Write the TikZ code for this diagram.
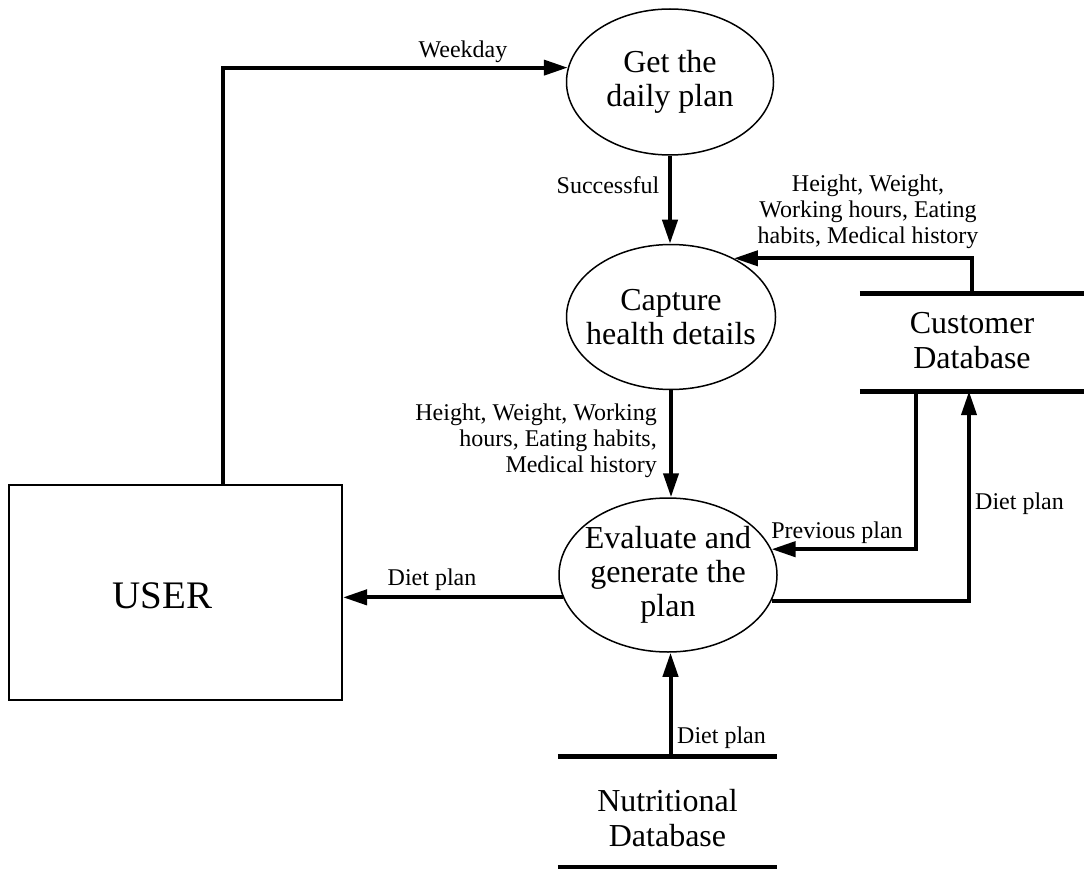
\documentclass[tikz,border=0pt]{standalone}
\usepackage{fontspec}
\setmainfont{Liberation Serif}
\usetikzlibrary{shapes.geometric,arrows.meta,calc}
\begin{document}
\begin{tikzpicture}[x=1pt,y=-1pt,
  process/.style={ellipse, draw, line width=1.5pt, inner sep=0pt},
  proctext/.style={font=\fontsize{32}{34}\selectfont, align=center, inner sep=0pt},
  flow/.style={line width=4pt, line join=miter, -{Triangle[length=24pt,width=15pt]}},
  flowlabel/.style={font=\fontsize{24}{26}\selectfont, align=center, inner sep=0pt},
  store/.style={inner sep=0pt},
  storetext/.style={font=\fontsize{32}{35}\selectfont, align=center, inner sep=0pt},
  storeline/.style={line width=5pt},
  entity/.style={draw, line width=2pt, inner sep=0pt},
]
\useasboundingbox (0,0) rectangle (1084,869);

% external entity
\node[entity, minimum width=333pt, minimum height=215pt,
      label={[font=\fontsize{39}{40}\selectfont, xshift=-13pt, yshift=-3pt]center:USER}]
      (user) at (175.5,592.5) {};

% processes
\node[process, minimum width=207pt, minimum height=146pt,
      label={[proctext]center:Get the\\daily plan}] (get) at (670,82) {};
\node[process, minimum width=209pt, minimum height=145pt,
      label={[proctext]center:Capture\\health details}] (capture) at (671,317) {};
\node[process, minimum width=218pt, minimum height=154pt,
      label={[proctext]center:Evaluate and\\generate the\\plan}] (evaluate) at (668,575) {};

% data stores
\node[store, minimum width=224pt, minimum height=97pt,
      label={[storetext, yshift=2pt]center:Customer\\Database}] (cdb) at (972,342.5) {};
\draw[storeline] (cdb.north west) -- (cdb.north east);
\draw[storeline] (cdb.south west) -- (cdb.south east);

\node[store, minimum width=219pt, minimum height=110pt,
      label={[storetext, yshift=-6pt]center:Nutritional\\Database}] (ndb) at (667.5,812) {};
\draw[storeline] (ndb.north west) -- (ndb.north east);
\draw[storeline] (ndb.south west) -- (ndb.south east);

% data flows
\draw[flow] ([xshift=47.5pt]user.north) |- (get.172);
\draw[flow] (get.south) -- (get.south |- capture.north);
\draw[flow] (cdb.north) |- (capture.43);
\draw[flow] (capture.south) -- (capture.south |- evaluate.north);
\draw[flow] ([xshift=-56pt]cdb.south) |- (evaluate.14);
\draw[flow] (evaluate.-14) -| ([xshift=-3pt]cdb.south);
\draw[flow] (evaluate.192) -- (evaluate.192 -| user.east);
\draw[flow] ([xshift=3pt]ndb.north) -- ([xshift=3pt]ndb.north |- evaluate.south);

% flow labels
\node[flowlabel] (lweek) at (463,52) {Weekday};
\node[flowlabel] (lsucc) at (608,185) {Successful};
\node[flowlabel] (lcust) at (868,212) {Height, Weight,\\Working hours, Eating\\habits, Medical history};
\node[flowlabel, anchor=east, align=right] (lhealth) at (657,441) {Height, Weight, Working\\hours, Eating habits,\\Medical history};
\node[flowlabel] (lprev) at (837,533) {Previous plan};
\node[flowlabel, anchor=west] (lsave) at (975,504) {Diet plan};
\node[flowlabel] (luser) at (432,580) {Diet plan};
\node[flowlabel, anchor=west] (lnut) at (677,738) {Diet plan};
\end{tikzpicture}
\end{document}
